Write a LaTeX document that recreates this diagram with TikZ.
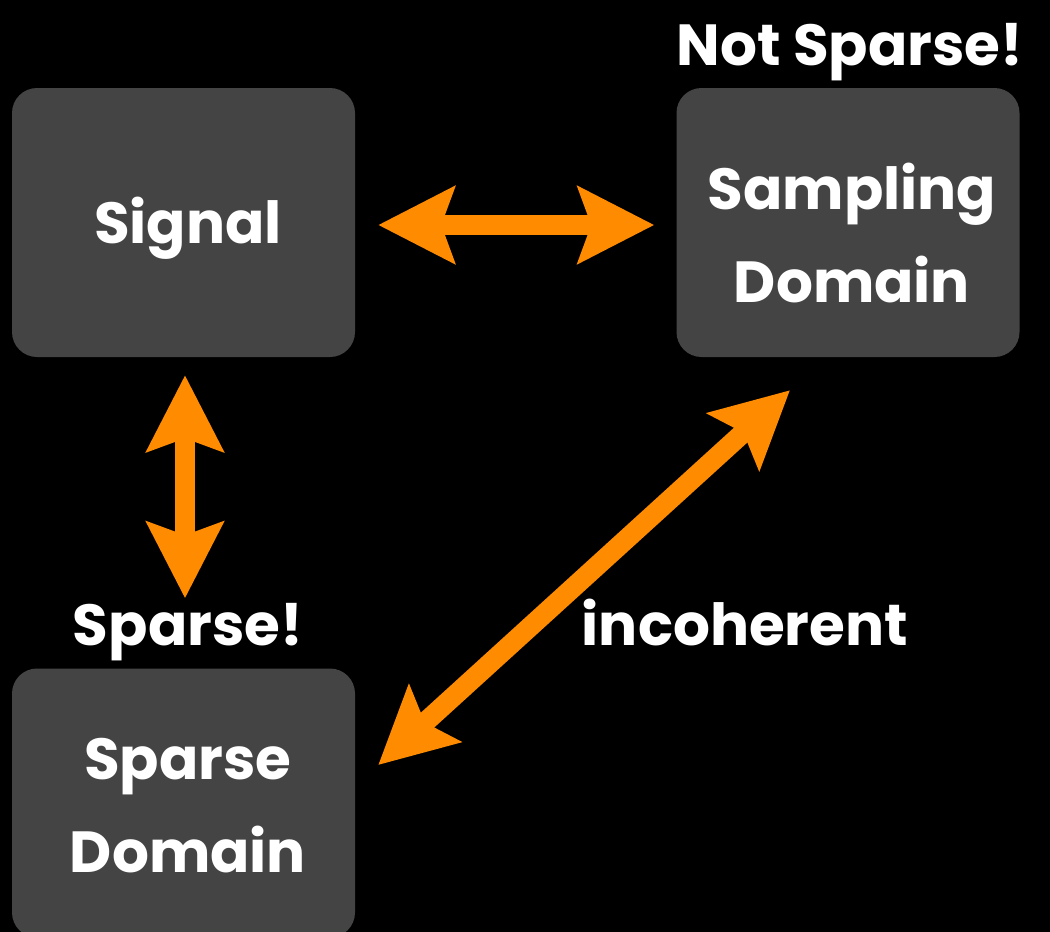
\documentclass[tikz,border=0pt]{standalone}
\usepackage{fontspec}
\setmainfont{Poppins}
\usetikzlibrary{arrows.meta}
\definecolor{boxgray}{HTML}{444444}
\definecolor{arrorange}{HTML}{FF8C00}
\tikzset{
  block/.style={fill=boxgray, rounded corners=25pt, minimum width=343pt, minimum height=269pt, inner sep=0pt},
  txt/.style={text=white, align=center, inner sep=0pt, font=\fontsize{58}{93}\selectfont\bfseries},
  lbl/.style={text=white, anchor=base, inner sep=0pt, font=\fontsize{58}{93}\selectfont\bfseries},
  dblarrow/.style={draw=arrorange, line width=20pt, {Stealth[length=76pt,width=76pt,inset=13pt]}-{Stealth[length=76pt,width=76pt,inset=13pt]}}
}
\begin{document}
\begin{tikzpicture}[x=1pt,y=-1pt]
\fill[black] (0,0) rectangle (1050,932);
\useasboundingbox (0,0) rectangle (1050,932);
\node[block] (signal) at (183.5,222.5) {};
\node[block] (sampling) at (848,222.5) {};
\node[block] (sparse) at (183.5,803) {};
\node[txt] (signaltxt) at (188,228) {Signal};
\node[txt] (samplingtxt) at (852,233) {Sampling\\Domain};
\node[txt] (sparsetxt) at (188,806) {Sparse\\Domain};
\node[lbl] (notsparse) at (850,65) {Not Sparse!};
\node[lbl] (sparselbl) at (188,645) {Sparse!};
\node[lbl] (incoh) at (745,645) {incoherent};
\draw[dblarrow] ([shift={(23,2.5)}]signal.east) -- ([shift={(-22,2.5)}]sampling.west);
\draw[dblarrow] ([shift={(1.5,18)}]signal.south) -- ([shift={(1.5,-70)}]sparse.north);
\draw[dblarrow] ([shift={(23,-38)}]sparse.east) -- ([shift={(-58,33)}]sampling.south);
\end{tikzpicture}
\end{document}
